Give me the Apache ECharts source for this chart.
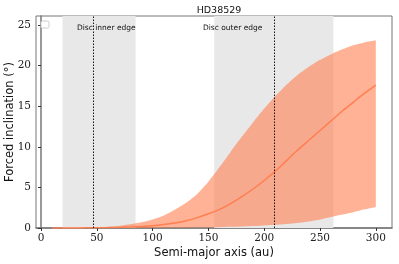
<!DOCTYPE html>
<html><head><meta charset="utf-8">
<script src="https://cdn.jsdelivr.net/npm/echarts@6/dist/echarts.min.js"></script>
<style>html,body{margin:0;padding:0;background:#fff}#c{width:399px;height:264px}</style>
</head><body><div id="c"></div>
<script>
var title = 'HD38529';
var xLabel = 'Semi-major axis (au)';
var yLabel = 'Forced inclination (°)';
var xTicks = [0, 50, 100, 150, 200, 250, 300];
var yTicks = [0, 5, 10, 15, 20, 25];
var semiMajor = [10,20,30,40,50,60,70,80,90,100,110,120,130,140,150,160,170,180,190,200,210,220,230,240,250,260,270,280,290,300];
var median = [0,0.005,0.01,0.02,0.03,0.05,0.08,0.13,0.2,0.28,0.42,0.62,0.9,1.28,1.75,2.3,3.0,3.85,4.8,5.85,7.0,8.3,9.6,10.8,12.0,13.2,14.4,15.5,16.6,17.6];
var upper = [0,0.01,0.02,0.05,0.08,0.14,0.25,0.45,0.7,1.05,1.55,2.25,3.1,4.2,5.7,7.5,9.4,11.25,13.0,14.7,16.25,17.65,18.85,19.85,20.7,21.4,22.0,22.5,22.85,23.1];
var lower = [0,0,0,0,0,0,0,0,0.005,0.01,0.015,0.02,0.03,0.05,0.07,0.1,0.14,0.19,0.25,0.32,0.4,0.5,0.62,0.8,1.05,1.35,1.65,1.95,2.3,2.6];
var discSpans = [[19.3, 84.7], [155.2, 262]];
var discEdges = [46.8, 209];
var edgeLabels = ['Disc inner edge', 'Disc outer edge'];

var chart = echarts.init(document.getElementById('c'), null, {renderer: 'canvas'});
var medData = semiMajor.map(function (x, i) { return [x, median[i]]; });
var bandData = semiMajor.map(function (x, i) { return [x, lower[i], upper[i]]; });
var tickFont = {fontFamily: 'DejaVu Serif', fontSize: 10.5, color: '#222'};
chart.setOption({
  animation: false,
  title: {text: title, left: 214, top: 1, textAlign: 'center',
    textStyle: {fontFamily: 'DejaVu Sans', fontSize: 9.5, fontWeight: 'normal', color: '#111'}},
  grid: {left: 36, right: 7, top: 16, bottom: 36, show: true, borderColor: '#777', borderWidth: 1,
    containLabel: false, outerBoundsMode: 'none'},
  xAxis: {type: 'value', min: -4.5, max: 314.5,
    name: xLabel, nameLocation: 'middle', nameGap: 19, nameMoveOverlap: false,
    nameTextStyle: {fontFamily: 'DejaVu Sans', fontSize: 11.5, color: '#111'},
    axisLine: {lineStyle: {color: '#777', width: 1.5}},
    axisTick: {show: true, length: 3, lineStyle: {color: '#333'}, customValues: xTicks},
    axisLabel: Object.assign({customValues: xTicks, margin: 5, hideOverlap: false}, tickFont),
    splitLine: {show: false}},
  yAxis: {type: 'value', min: 0, max: 26.1,
    name: yLabel, nameLocation: 'middle', nameGap: 20, nameMoveOverlap: false,
    nameTextStyle: {fontFamily: 'DejaVu Sans', fontSize: 11.5, color: '#111'},
    axisLine: {show: true, lineStyle: {color: '#777', width: 1.5}},
    axisTick: {show: true, length: 3, lineStyle: {color: '#333'}, customValues: yTicks},
    axisLabel: Object.assign({customValues: yTicks, margin: 5, hideOverlap: false}, tickFont),
    splitLine: {show: false}},
  series: [
    {type: 'custom', data: [0], silent: true, z: 3, clip: true,
      encode: {x: -1, y: -1},
      renderItem: function (params, api) {
        var up = [], lo = [];
        for (var i = 0; i < bandData.length; i++) {
          up.push(api.coord([bandData[i][0], bandData[i][2]]));
          lo.push(api.coord([bandData[i][0], bandData[i][1]]));
        }
        lo.reverse();
        var n = up.length;
        var pts = [up[0]].concat(up, [up[n - 1], lo[0]], lo, [lo[n - 1]]);
        return {type: 'polygon', shape: {points: pts, smooth: 0.2},
          style: {fill: 'rgba(255,127,80,0.6)'}};
      }},
    {type: 'line', data: medData, symbol: 'none', z: 4, smooth: 0.3,
      lineStyle: {color: '#ff7f50', width: 1.5},
      markArea: {silent: true, itemStyle: {color: '#e8e8e8'}, z: 1,
        data: discSpans.map(function (s) { return [{xAxis: s[0]}, {xAxis: s[1]}]; })},
      markLine: {silent: true, symbol: 'none', label: {show: false},
        lineStyle: {color: '#111', type: [1.5, 1.5], width: 1},
        data: discEdges.map(function (e) { return {xAxis: e}; })}}
  ],
  graphic: [
    {type: 'rect', shape: {x: 41, y: 21, width: 8, height: 7, r: 1.5},
      style: {fill: '#fff', stroke: '#ccc', lineWidth: 1}, z: 10},
    {type: 'text', left: 77, top: 24, style: {text: edgeLabels[0], font: '7.5px "DejaVu Sans"', fill: '#111'}, z: 10},
    {type: 'text', left: 203, top: 24, style: {text: edgeLabels[1], font: '7.5px "DejaVu Sans"', fill: '#111'}, z: 10}
  ]
});
</script></body></html>
